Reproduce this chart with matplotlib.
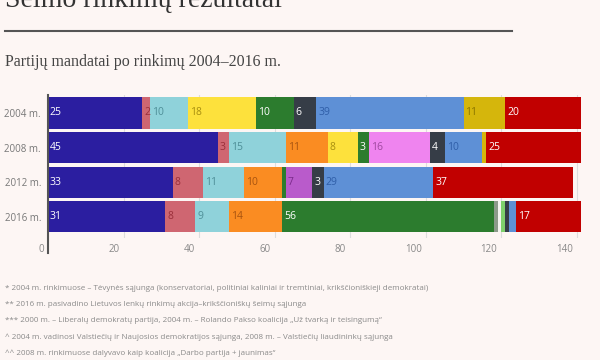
import matplotlib.pyplot as plt
from matplotlib.transforms import ScaledTranslation

# rows top to bottom
YEARS = ["2004 m.", "2008 m.", "2012 m.", "2016 m."]

# party series in stack order (seats per election year)
PARTIES = ["TS-LKD", "LLRA", "TT", "LRLS", "LiCS", "LVZS", "LCP", "KT", "LZP",
           "TPP", "DK", "Kiti", "DP", "NS", "LSDP"]
SEATS = {
    "TS-LKD": [25, 45, 33, 31],
    "LLRA":   [2, 3, 8, 8],
    "TT":     [10, 15, 11, 9],
    "LRLS":   [0, 11, 10, 14],
    "LiCS":   [18, 8, 0, 0],
    "LVZS":   [10, 3, 1, 56],
    "LCP":    [0, 0, 0, 1],
    "KT":     [0, 0, 0, 1],
    "LZP":    [0, 0, 0, 1],
    "TPP":    [0, 16, 0, 0],
    "DK":     [0, 0, 7, 0],
    "Kiti":   [6, 4, 3, 1],
    "DP":     [39, 10, 29, 2],
    "NS":     [11, 1, 0, 0],
    "LSDP":   [20, 25, 37, 17],
}
COLORS = {
    "TS-LKD": "#2b1ea0", "LLRA": "#cf6671", "TT": "#8fd2da", "LRLS": "#fa8c22",
    "LiCS": "#fde13c", "LVZS": "#2c7c2e", "LCP": "#8c9a8a", "KT": "#f4f4f0",
    "LZP": "#7fd06c", "TPP": "#ef84ef", "DK": "#b95bcb", "Kiti": "#363d47",
    "DP": "#5e90d6", "NS": "#d5b60c", "LSDP": "#c10000",
}
TEXT_COLORS = {
    "TS-LKD": "white", "LLRA": "#9a2f3a", "TT": "#4f8f98", "LRLS": "#a85410",
    "LiCS": "#a88f10", "LVZS": "white", "TPP": "#a048a0", "DK": "#7a2a8a",
    "Kiti": "white", "DP": "#2f5ea8", "NS": "#8a7500", "LSDP": "white",
}
SKIP_LABEL = {("DP", 3)}

XTICKS = [0, 20, 40, 60, 80, 100, 120, 140]

FOOTNOTES = [
    "* 2004 m. rinkimuose – Tėvynės sąjunga (konservatoriai, politiniai kaliniai ir tremtiniai, krikščioniškieji demokratai)",
    "** 2016 m. pasivadino Lietuvos lenkų rinkimų akcija–krikščioniškų šeimų sąjunga",
    "*** 2000 m. – Liberalų demokratų partija, 2004 m. – Rolando Pakso koalicija „Už tvarką ir teisingumą“",
    "^ 2004 m. vadinosi Valstiečių ir Naujosios demokratijos sąjunga, 2008 m. – Valstiečių liaudininkų sąjunga",
    "^^ 2008 m. rinkimuose dalyvavo kaip koalicija „Darbo partija + jaunimas“",
]

BG = "#fdf6f4"
SANS = ["Open Sans", "DejaVu Sans"]
SERIF = ["Liberation Serif", "DejaVu Serif"]

fig = plt.figure(figsize=(6, 3.6), dpi=100, facecolor=BG)

# heading (cut off at top), rule and subtitle
fig.text(5 / 600, 1 - 7 / 360, "Seimo rinkimų rezultatai", family=SERIF, fontsize=20,
         color="#333333", va="baseline", ha="left")
fig.add_artist(plt.Line2D([5 / 600, 512 / 600], [1 - 31 / 360] * 2, color="#555555", lw=1.5))
fig.text(5 / 600, 1 - 62 / 360, "Partijų mandatai po rinkimų 2004–2016 m.", family=SERIF,
         fontsize=11.5, color="#444444", va="center", ha="left")

ax = fig.add_axes([48 / 600, 1 - 238 / 360, 544 / 600, 143 / 360])
ax.set_facecolor(BG)
ax.set_xlim(0, 144)
ax.set_ylim(3.62, -0.52)

for x in XTICKS[1:]:
    ax.axvline(x, color="#dddddd", lw=0.8, zorder=0)

ypos = list(range(len(YEARS)))
left = [0] * len(YEARS)
for p in PARTIES:
    vals = SEATS[p]
    ax.barh(ypos, vals, left=left, height=0.9, color=COLORS[p], zorder=2)
    for i, v in enumerate(vals):
        if v >= 2 and (p, i) not in SKIP_LABEL:
            ax.text(left[i] + 0.5, i, str(v), color=TEXT_COLORS.get(p, "#333333"),
                    fontsize=7.5, family=SANS, va="center", ha="left", zorder=3)
    left = [l + v for l, v in zip(left, vals)]

for s in ["top", "right", "bottom", "left"]:
    ax.spines[s].set_visible(False)
ax.plot([0, 0], [-0.52, 4.04], color="#555555", lw=1.5, clip_on=False, zorder=4)

ax.set_yticks(ypos)
ax.set_yticklabels(YEARS, family=SANS, fontsize=7, color="#777777")
ax.set_xticks(XTICKS)
ax.set_xticklabels([str(t) for t in XTICKS], family=SANS, fontsize=7, color="#888888")
ax.tick_params(axis="both", length=0, pad=5)
ax.tick_params(axis="x", pad=4)
shift = ScaledTranslation(-4 / 100, 0, fig.dpi_scale_trans)
for lbl in ax.get_xticklabels():
    lbl.set_horizontalalignment("right")
    lbl.set_transform(lbl.get_transform() + shift)

for k, line in enumerate(FOOTNOTES):
    fig.text(5 / 600, 1 - (288 + 16.3 * k) / 360, line, family=SANS, fontsize=5.8,
             color="#8a8a8a", va="center", ha="left")

fig.savefig("out.png", dpi=100, facecolor=BG)
